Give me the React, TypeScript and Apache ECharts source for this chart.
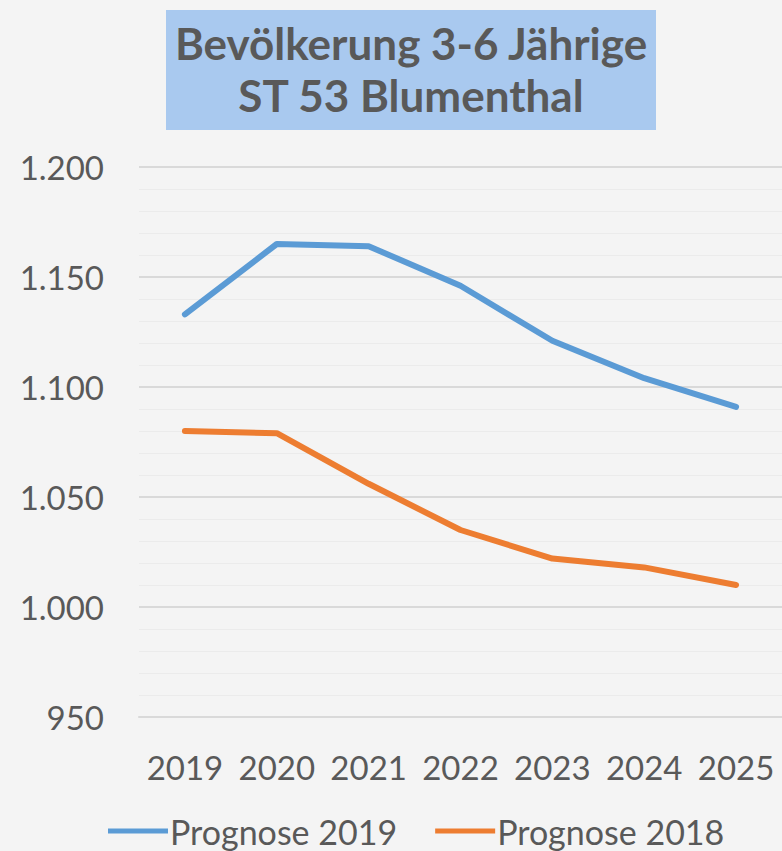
import React, { useEffect, useRef } from "react";
import * as echarts from "echarts";

const years = ["2019", "2020", "2021", "2022", "2023", "2024", "2025"];
const prognose2019 = [1133, 1165, 1164, 1146, 1121, 1104, 1091];
const prognose2018 = [1080, 1079, 1056, 1035, 1022, 1018, 1010];
const titleLines = ["Bevölkerung 3-6 Jährige", "ST 53 Blumenthal"];
const seriesNames = ["Prognose 2019", "Prognose 2018"];

const FONT = "Lato, 'Open Sans', sans-serif";

export default function App() {
  const ref = useRef<HTMLDivElement>(null);
  useEffect(() => {
    if (!ref.current) return;
    const chart = echarts.init(ref.current, null, { renderer: "svg" });
    chart.setOption({
      animation: false,
      backgroundColor: "#f4f4f4",
      textStyle: { fontFamily: FONT },
      graphic: [
        {
          type: "rect",
          shape: { x: 166, y: 10, width: 490, height: 120 },
          style: { fill: "#a9c9ef" },
          z: 1,
        },
        {
          type: "text",
          x: 411,
          y: 69,
          z: 2,
          style: {
            text: titleLines.join("\n"),
            fontFamily: FONT,
            fontWeight: "bold",
            fontSize: 44,
            lineHeight: 52,
            fill: "#595959",
            textAlign: "center",
            textVerticalAlign: "middle",
          },
        },
      ],
      grid: { left: 139, right: -11, top: 167, bottom: 134, containLabel: false },
      legend: {
        data: seriesNames,
        bottom: -2,
        left: 103,
        icon: "rect",
        itemWidth: 60,
        itemHeight: 5,
        itemGap: 38,
        textStyle: { fontFamily: FONT, fontSize: 34, color: "#595959", padding: [0, 0, 0, -3] },
      },
      xAxis: {
        type: "category",
        data: years,
        boundaryGap: true,
        axisLine: { show: true, lineStyle: { color: "#d9d9d9", width: 2 } },
        axisTick: { show: false },
        axisLabel: {
          interval: 0,
          hideOverlap: false,
          fontFamily: FONT,
          fontSize: 33,
          color: "#595959",
          margin: 33,
        },
      },
      yAxis: {
        type: "value",
        min: 950,
        max: 1200,
        interval: 50,
        axisLine: { show: false },
        axisTick: { show: false },
        axisLabel: {
          fontFamily: FONT,
          fontSize: 33,
          color: "#595959",
          margin: 35,
          formatter: (v: number) => v.toLocaleString("de-DE"),
        },
        splitLine: { show: true, lineStyle: { color: "#d9d9d9", width: 2 } },
        minorTick: { show: false, splitNumber: 5 },
        minorSplitLine: { show: true, lineStyle: { color: "#ebebeb", width: 1 } },
      },
      series: [
        {
          name: seriesNames[0],
          type: "line",
          data: prognose2019,
          symbol: "none",
          lineStyle: { color: "#5b9bd5", width: 6, cap: "round", join: "round" },
          itemStyle: { color: "#5b9bd5" },
        },
        {
          name: seriesNames[1],
          type: "line",
          data: prognose2018,
          symbol: "none",
          lineStyle: { color: "#ed7d31", width: 6, cap: "round", join: "round" },
          itemStyle: { color: "#ed7d31" },
        },
      ],
    });
    return () => chart.dispose();
  }, []);
  return (
    <div
      ref={ref}
      style={{ position: "fixed", left: 0, top: 0, width: 782, height: 851, background: "#f4f4f4" }}
    />
  );
}
